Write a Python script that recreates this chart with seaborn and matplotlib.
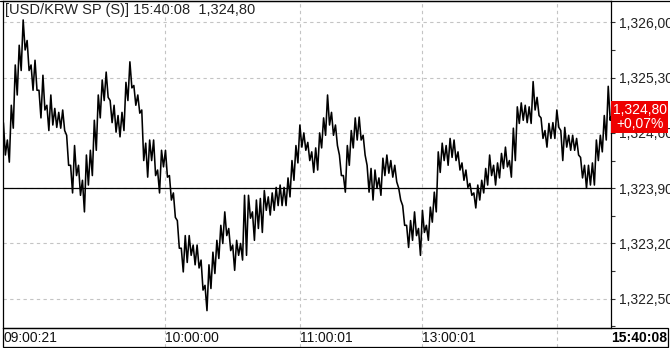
import numpy as np
import pandas as pd
import matplotlib
matplotlib.use("Agg")
import matplotlib.pyplot as plt
import seaborn as sns
from matplotlib.ticker import FixedLocator, FuncFormatter
from matplotlib.patches import Rectangle
from matplotlib.lines import Line2D

# ---------------- data ----------------
symbol = "[USD/KRW SP (S)]"
last_time = "15:40:08"
last_price = 1324.80
prev_close = 1323.90

# high / low of the tick price within each time bin
bin_high = [
    1324.73, 1324.51, 1324.95, 1325.46, 1325.71, 1326.03, 1325.77, 1325.46, 1325.52, 1325.14,
    1325.33, 1324.95, 1325.08, 1324.91, 1324.86, 1324.89, 1324.57, 1324.19, 1324.44, 1324.19,
    1324.00, 1324.32, 1324.38, 1324.76, 1325.08, 1325.27, 1325.37, 1325.01, 1324.95, 1324.82,
    1324.86, 1325.24, 1325.50, 1325.20, 1325.08, 1324.89, 1324.47, 1324.51, 1324.51, 1324.13,
    1324.38, 1324.38, 1324.06, 1323.84, 1323.49, 1323.14, 1323.30, 1323.30, 1323.18, 1323.18,
    1322.99, 1322.67, 1322.93, 1323.09, 1323.24, 1323.43, 1323.60, 1323.39, 1323.18, 1323.24,
    1323.20, 1323.81, 1323.81, 1323.60, 1323.75, 1323.77, 1323.87, 1323.79, 1323.84, 1323.91,
    1323.94, 1323.91, 1324.03, 1324.25, 1324.44, 1324.70, 1324.60, 1324.48, 1324.36, 1324.41,
    1324.60, 1324.79, 1325.08, 1324.86, 1324.70, 1324.32, 1324.06, 1324.44, 1324.63, 1324.79,
    1324.80, 1324.57, 1324.19, 1324.15, 1324.13, 1324.03, 1324.28, 1324.32, 1324.25, 1324.19,
    1323.90, 1323.68, 1323.43, 1323.49, 1323.60, 1323.39, 1323.62, 1323.43, 1323.66, 1323.85,
    1324.36, 1324.47, 1324.44, 1324.53, 1324.51, 1324.36, 1324.22, 1324.13, 1323.96, 1323.84,
    1323.94, 1324.00, 1324.15, 1324.32, 1324.19, 1324.22, 1324.34, 1324.42, 1324.25, 1324.66,
    1324.93, 1324.98, 1324.95, 1324.93, 1325.25, 1325.05, 1324.79, 1324.63, 1324.72, 1324.73,
    1324.89, 1324.63, 1324.67, 1324.57, 1324.57, 1324.53, 1324.29, 1324.19, 1324.19, 1324.22,
    1324.51, 1324.57, 1324.82, 1325.19,
]
bin_low = [
    1324.32, 1324.23, 1324.66, 1325.08, 1325.39, 1325.65, 1325.39, 1325.14, 1325.14, 1324.79,
    1324.89, 1324.63, 1324.70, 1324.67, 1324.66, 1324.63, 1324.19, 1323.84, 1324.06, 1323.81,
    1323.60, 1323.94, 1324.06, 1324.38, 1324.79, 1325.01, 1325.05, 1324.73, 1324.61, 1324.55,
    1324.63, 1325.01, 1325.17, 1324.95, 1324.85, 1324.25, 1324.04, 1324.25, 1324.06, 1323.84,
    1324.17, 1324.04, 1323.75, 1323.53, 1323.14, 1322.84, 1322.96, 1323.05, 1322.93, 1322.89,
    1322.61, 1322.35, 1322.63, 1322.82, 1323.01, 1323.20, 1323.30, 1323.11, 1322.86, 1323.05,
    1322.99, 1323.05, 1323.52, 1323.24, 1323.39, 1323.34, 1323.62, 1323.56, 1323.62, 1323.68,
    1323.68, 1323.68, 1323.79, 1324.00, 1324.22, 1324.42, 1324.38, 1324.25, 1324.10, 1324.13,
    1324.41, 1324.57, 1324.70, 1324.57, 1324.44, 1324.06, 1323.85, 1324.19, 1324.41, 1324.51,
    1324.51, 1324.32, 1323.85, 1323.75, 1323.90, 1323.81, 1324.06, 1324.09, 1324.04, 1323.98,
    1323.75, 1323.43, 1323.15, 1323.24, 1323.30, 1323.05, 1323.34, 1323.24, 1323.47, 1323.60,
    1324.10, 1324.25, 1324.19, 1324.29, 1324.25, 1324.13, 1324.00, 1323.91, 1323.81, 1323.65,
    1323.75, 1323.84, 1323.94, 1324.06, 1323.94, 1324.03, 1324.15, 1324.17, 1324.04, 1324.25,
    1324.72, 1324.76, 1324.73, 1324.72, 1324.89, 1324.82, 1324.53, 1324.42, 1324.53, 1324.53,
    1324.67, 1324.25, 1324.42, 1324.38, 1324.38, 1324.32, 1324.03, 1323.90, 1323.94, 1323.94,
    1324.25, 1324.36, 1324.51, 1324.76,
]

time_labels = ["09:00:21", "10:00:00", "11:00:01", "13:00:01", ""]
time_bins = [0, 41, 75, 106, 140]
price_ticks = [1322.50, 1323.20, 1323.90, 1324.60, 1325.30, 1326.00]
minor_ticks = [1322.15, 1322.85, 1323.55, 1324.25, 1324.95, 1325.65]

# ---------------- build series ----------------
xs, ys = [], []
for i, (h, l) in enumerate(zip(bin_high, bin_low)):
    xs += [i, i + 0.5]
    ys += [h, l]
n = len(bin_high)
xs.append(n - 0.4)
ys.append(last_price)
df = pd.DataFrame({"bin": xs, "price": ys})

def krw(v):
    return f"{v:,.2f}".replace(".", ",")

pct = (last_price - prev_close) / prev_close * 100
pct_str = f"{pct:+.2f}%".replace(".", ",")

# ---------------- style ----------------
sns.set_style("white")
plt.rcParams["font.family"] = ["Liberation Sans", "DejaVu Sans"]

W, H = 670, 348
fig = plt.figure(figsize=(W / 100, H / 100), dpi=100)
ax = fig.add_axes([3 / W, (H - 328) / H, (611 - 3) / W, (328 - 1) / H])

grid_kw = dict(color="#c4c4c4", lw=0.8, ls=(0, (3, 3)), zorder=0)
for t in price_ticks:
    ax.axhline(t, **grid_kw)
for b in time_bins[1:]:
    ax.axvline(b, ymin=-0.058, ymax=1, clip_on=False, **grid_kw)

ax.axhline(prev_close, color="black", lw=0.9, zorder=1)

sns.lineplot(data=df, x="bin", y="price", ax=ax, color="black", lw=1.15,
             estimator=None, sort=False, zorder=2)

ax.set_xlim(-0.1, n - 0.3)
ax.set_ylim(1322.13, 1326.27)
ax.set_xlabel("")
ax.set_ylabel("")

# y axis on the right
ax.yaxis.tick_right()
ax.yaxis.set_major_locator(FixedLocator(price_ticks))
ax.yaxis.set_minor_locator(FixedLocator(minor_ticks))
ax.yaxis.set_major_formatter(FuncFormatter(lambda v, _: krw(v)))
ax.tick_params(axis="y", which="both", right=True, left=False, length=3,
               width=0.8, color="#333333", pad=3, labelsize=10, labelcolor="#222222")

# x axis labels in the bottom strip
ax.set_xticks(time_bins)
ax.set_xticklabels(time_labels)
ax.tick_params(axis="x", length=0, pad=2, labelsize=10, labelcolor="#111111")
for lab in ax.get_xticklabels():
    lab.set_horizontalalignment("left")

for s in ax.spines.values():
    s.set_color("black")
    s.set_linewidth(0.9)

# last time (bold) on the right of the strip
fig.text(667 / W, 1 - 338 / H, last_time, ha="right", va="center",
         fontsize=10, fontweight="bold", color="black")

# strip frame and top border
fig.add_artist(Rectangle((3 / W, (H - 347) / H), (668 - 3) / W, (347 - 328) / H,
                         transform=fig.transFigure, fill=False, ec="black", lw=0.9))
fig.add_artist(Line2D([0, 1], [1 - 1 / H, 1 - 1 / H], transform=fig.transFigure,
                      color="black", lw=0.9))

# header text
fig.text(5 / W, 1 - 3 / H, f"{symbol} {last_time}  {krw(last_price)}",
         ha="left", va="top", fontsize=10.5, color="#222222")

# red last-price box
ax.annotate(f"{krw(last_price)}\n{pct_str}", xy=(1, last_price),
            xycoords=("axes fraction", "data"), xytext=(1.2, 0),
            textcoords="offset points", ha="left", va="center", color="white",
            fontsize=10, multialignment="center", linespacing=1.0,
            bbox=dict(boxstyle="square,pad=0.12", fc="#ee0000", ec="none"),
            annotation_clip=False, zorder=5)

fig.savefig("out.png", dpi=100)
